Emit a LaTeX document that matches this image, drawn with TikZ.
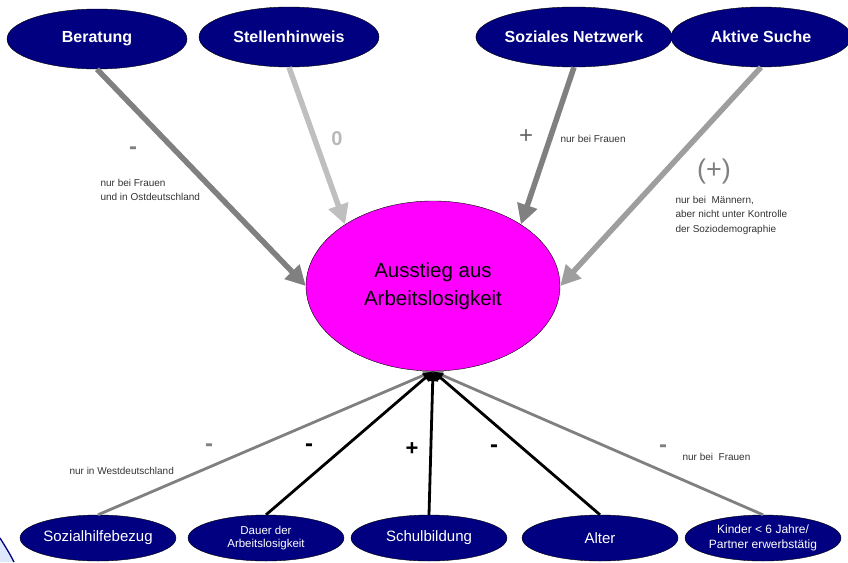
\documentclass[tikz,border=0pt]{standalone}
\usepackage{fontspec}
\setmainfont{Liberation Sans}
\usetikzlibrary{shapes.geometric,arrows.meta}
\definecolor{navyblue}{RGB}{0,0,128}
\definecolor{pinkfill}{RGB}{255,0,255}
\definecolor{lightbg}{RGB}{222,232,250}

\begin{document}
\begin{tikzpicture}[x=1pt,y=-1pt,
  topnode/.style={ellipse,draw=black,fill=navyblue,text=white,inner sep=0pt,
    minimum width=180pt,minimum height=60pt,font=\fontsize{16}{18}\selectfont\bfseries},
  botnode/.style={ellipse,draw=black,fill=navyblue,text=white,inner sep=0pt,align=center,
    minimum width=156pt,minimum height=46pt,font=\fontsize{15}{17}\selectfont},
  note/.style={anchor=west,align=left,text=black!80,font=\fontsize{10}{14.5}\selectfont},
  sign/.style={font=\fontsize{24}{24}\selectfont\bfseries},
  bigarrow/.style={line width=5.5pt,-{Triangle[length=20pt,width=20pt]}},
  thinarrow/.style={line width=2.8pt,-{Triangle[length=10pt,width=10pt]}}]
\useasboundingbox (0,0) rectangle (848,562);

% corner decoration
\fill[lightbg] (0,538) .. controls (5,546) and (10,554) .. (14,562) -- (0,562) -- cycle;
\draw[navyblue,line width=1.3pt] (0,538) .. controls (5,546) and (10,554) .. (14,562);

% main node
\node[ellipse,draw=black,fill=pinkfill,inner sep=0pt,minimum width=254pt,minimum height=170pt,
  align=center,font=\fontsize{20.5}{28}\selectfont] (aus) at (433,286) {Ausstieg aus\\Arbeitslosigkeit};

% job search channels
\node[topnode] (ber)  at (97,39)  {Beratung};
\node[topnode] (stel) at (289,37) {Stellenhinweis};
\node[topnode] (soz)  at (574,37) {Soziales Netzwerk};
\node[topnode] (akt)  at (761,37) {Aktive Suche};

\draw[bigarrow,black!50] (ber.south) -- (aus.west);
\draw[bigarrow,black!25] (stel.south) -- (aus.145);
\draw[bigarrow,black!50] (soz.south) -- (aus.35);
\draw[bigarrow,black!38] (akt.south) -- (aus.east);

\node[sign,text=black!50] (sber) at (133,151) {-};
\node[note] (nber) at (97,190) {nur bei Frauen\\und in Ostdeutschland};
\node[sign,text=black!28,font=\fontsize{20}{20}\selectfont\bfseries] (sstel) at (337,139) {0};
\node[sign,text=black!60,font=\fontsize{24}{24}\selectfont] (ssoz) at (526,137) {+};
\node[note] (nsoz) at (557,139) {nur bei Frauen};
\node[sign,text=black!50,font=\fontsize{27}{27}\selectfont] (sakt) at (714,172) {(+)};
\node[note] (nakt) at (672,215) {nur bei\ \ Männern,\\aber nicht unter Kontrolle\\der Soziodemographie};

% control variables
\node[botnode] (shb)  at (98,538)  {Sozialhilfebezug};
\node[botnode,font=\fontsize{11.5}{13}\selectfont] (dau) at (266,538) {Dauer der\\Arbeitslosigkeit};
\node[botnode] (schul) at (429,538) {Schulbildung};
\node[botnode] (alt)  at (600,538) {Alter};
\node[botnode,font=\fontsize{12}{15}\selectfont] (kin) at (763,538) {Kinder < 6 Jahre/\\Partner erwerbstätig};

\draw[thinarrow,black!50] (shb.north) -- (aus.south);
\draw[thinarrow,black!50] (kin.north) -- (aus.south);
\draw[thinarrow,black] (dau.north) -- (aus.south);
\draw[thinarrow,black] (schul.north) -- (aus.south);
\draw[thinarrow,black] (alt.north) -- (aus.south);

\node[sign,text=black!50] (sshb) at (209,448) {-};
\node[note] (nshb) at (66,471) {nur in Westdeutschland};
\node[sign] (sdau) at (309,448) {-};
\node[sign,font=\fontsize{22}{22}\selectfont\bfseries] (sschul) at (412,449) {+};
\node[sign] (salt) at (494,449) {-};
\node[sign,text=black!50] (skin) at (663,449) {-};
\node[note] (nkin) at (679,457) {nur bei\ \ Frauen};
\end{tikzpicture}
\end{document}
